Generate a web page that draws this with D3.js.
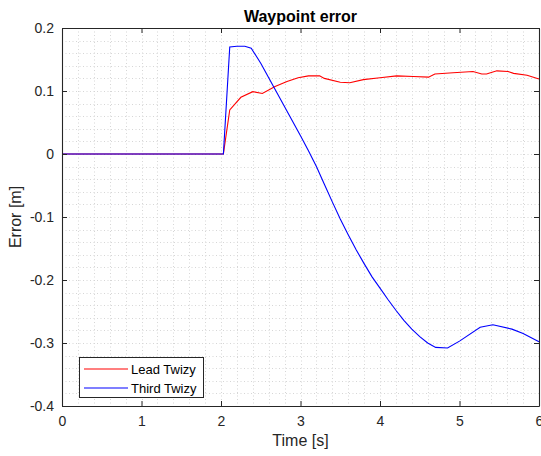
<!DOCTYPE html>
<html>
<head>
<meta charset="utf-8">
<script src="https://cdn.jsdelivr.net/npm/d3@7"></script>
<style>
  body { margin: 0; background: #fff; }
  svg { display: block; }
  text { font-family: "Liberation Sans", Arial, Helvetica, sans-serif; }
</style>
</head>
<body>
<svg id="chart" width="541" height="456"></svg>
<script>
// ---- Data ----
const seriesNames = ["Lead Twizy", "Third Twizy"];
const seriesColors = ["#ff0000", "#0000ff"];

const leadT = [0, 2.03, 2.11, 2.25, 2.40, 2.52, 2.68, 2.83, 2.97, 3.10, 3.24, 3.30, 3.50, 3.62, 3.79, 4.00, 4.21, 4.42, 4.61, 4.69, 4.92, 5.17, 5.28, 5.34, 5.47, 5.61, 5.68, 5.85, 6.00];
const leadV = [0, 0, 0.070, 0.090, 0.099, 0.096, 0.107, 0.115, 0.121, 0.124, 0.124, 0.120, 0.114, 0.113, 0.118, 0.121, 0.124, 0.123, 0.122, 0.127, 0.129, 0.131, 0.127, 0.127, 0.132, 0.131, 0.128, 0.125, 0.119];

const thirdT = [0, 2.03, 2.11, 2.20, 2.30, 2.38, 2.50, 2.60, 2.70, 2.80, 2.90, 3.00, 3.10, 3.20, 3.30, 3.40, 3.50, 3.60, 3.70, 3.80, 3.90, 4.00, 4.10, 4.20, 4.30, 4.40, 4.50, 4.60, 4.70, 4.85, 5.00, 5.26, 5.42, 5.66, 5.80, 6.00];
const thirdV = [0, 0, 0.170, 0.171, 0.171, 0.168, 0.144, 0.121, 0.098, 0.075, 0.052, 0.029, 0.005, -0.020, -0.048, -0.076, -0.103, -0.128, -0.152, -0.174, -0.195, -0.213, -0.231, -0.248, -0.264, -0.278, -0.290, -0.300, -0.307, -0.308, -0.297, -0.275, -0.271, -0.278, -0.285, -0.298];

const xTicks = [0, 1, 2, 3, 4, 5, 6];
const yTicks = [-0.4, -0.3, -0.2, -0.1, 0, 0.1, 0.2];
const yTickLabels = ["-0.4", "-0.3", "-0.2", "-0.1", "0", "0.1", "0.2"];

const titleText = "Waypoint error";
const xLabel = "Time [s]";
const yLabel = "Error [m]";

// ---- Layout ----
const svg = d3.select("#chart");
const L = 62, R = 539, T = 28, B = 406;
const x = d3.scaleLinear().domain([0, 6]).range([L, R]);
const y = d3.scaleLinear().domain([-0.4, 0.2]).range([B, T]);

svg.append("rect").attr("x", L).attr("y", T).attr("width", R - L).attr("height", B - T).attr("fill", "#fff");

// minor grid (dotted)
const xMinor = d3.range(0, 6.0001, 0.2);
const yMinor = d3.range(-0.4, 0.2001, 0.02);
const grid = svg.append("g");
grid.selectAll("line.xm").data(xMinor).enter().append("line")
  .attr("x1", d => Math.round(x(d)) + 0.5).attr("x2", d => Math.round(x(d)) + 0.5)
  .attr("y1", T).attr("y2", B)
  .attr("stroke", "#d6d6d6").attr("stroke-width", 1).attr("stroke-dasharray", "1,2.5");
grid.selectAll("line.ym").data(yMinor).enter().append("line")
  .attr("y1", d => Math.round(y(d)) + 0.5).attr("y2", d => Math.round(y(d)) + 0.5)
  .attr("x1", L).attr("x2", R)
  .attr("stroke", "#d6d6d6").attr("stroke-width", 1).attr("stroke-dasharray", "1,2.5");

// lines
const line = d3.line().x(d => x(d[0])).y(d => y(d[1]));
const leadData = leadT.map((t, i) => [t, leadV[i]]);
const thirdData = thirdT.map((t, i) => [t, thirdV[i]]);
svg.append("path").datum(leadData).attr("d", line).attr("fill", "none")
  .attr("stroke", seriesColors[0]).attr("stroke-width", 1.1);
svg.append("path").datum(thirdData).attr("d", line).attr("fill", "none")
  .attr("stroke", seriesColors[1]).attr("stroke-width", 1.1);

// axes
const axColor = "#262626";
const xAxisB = svg.append("g").attr("transform", `translate(0,${B})`)
  .call(d3.axisBottom(x).tickValues(xTicks).tickSizeInner(-5).tickSizeOuter(0).tickPadding(10).tickFormat(d3.format("d")));
const xAxisT = svg.append("g").attr("transform", `translate(0,${T})`)
  .call(d3.axisTop(x).tickValues(xTicks).tickSizeInner(-5).tickSizeOuter(0).tickFormat(""));
const yAxisL = svg.append("g").attr("transform", `translate(${L},0)`)
  .call(d3.axisLeft(y).tickValues(yTicks).tickSizeInner(-5).tickSizeOuter(0).tickPadding(8)
    .tickFormat((d, i) => yTickLabels[i]));
const yAxisR = svg.append("g").attr("transform", `translate(${R},0)`)
  .call(d3.axisRight(y).tickValues(yTicks).tickSizeInner(-5).tickSizeOuter(0).tickFormat(""));
[xAxisB, xAxisT, yAxisL, yAxisR].forEach(g => {
  g.select(".domain").attr("stroke", axColor).attr("stroke-width", 1.1);
  g.selectAll(".tick line").attr("stroke", axColor).attr("stroke-width", 1);
  g.selectAll(".tick text").attr("fill", axColor).attr("font-size", 14)
    .attr("font-family", "'Liberation Sans', Arial, sans-serif");
});

// titles
svg.append("text").attr("x", (L + R) / 2).attr("y", 22).attr("text-anchor", "middle")
  .attr("font-size", 16).attr("font-weight", "bold").attr("fill", "#000").text(titleText);
svg.append("text").attr("x", (L + R) / 2).attr("y", 446).attr("text-anchor", "middle")
  .attr("font-size", 16).attr("fill", axColor).text(xLabel);
svg.append("text").attr("transform", `translate(21,${(T + B) / 2}) rotate(-90)`).attr("text-anchor", "middle")
  .attr("font-size", 16).attr("fill", axColor).text(yLabel);

// legend
const lg = svg.append("g");
lg.append("rect").attr("x", 79.5).attr("y", 357.5).attr("width", 124).attr("height", 40)
  .attr("fill", "#fff").attr("stroke", axColor).attr("stroke-width", 1);
seriesNames.forEach((n, i) => {
  const yy = 369 + i * 19;
  lg.append("line").attr("x1", 84).attr("x2", 128).attr("y1", yy).attr("y2", yy)
    .attr("stroke", seriesColors[i]).attr("stroke-width", 1.1);
  lg.append("text").attr("x", 131).attr("y", yy + 4.5).attr("font-size", 13)
    .attr("fill", "#000").text(n);
});
</script>
</body>
</html>
